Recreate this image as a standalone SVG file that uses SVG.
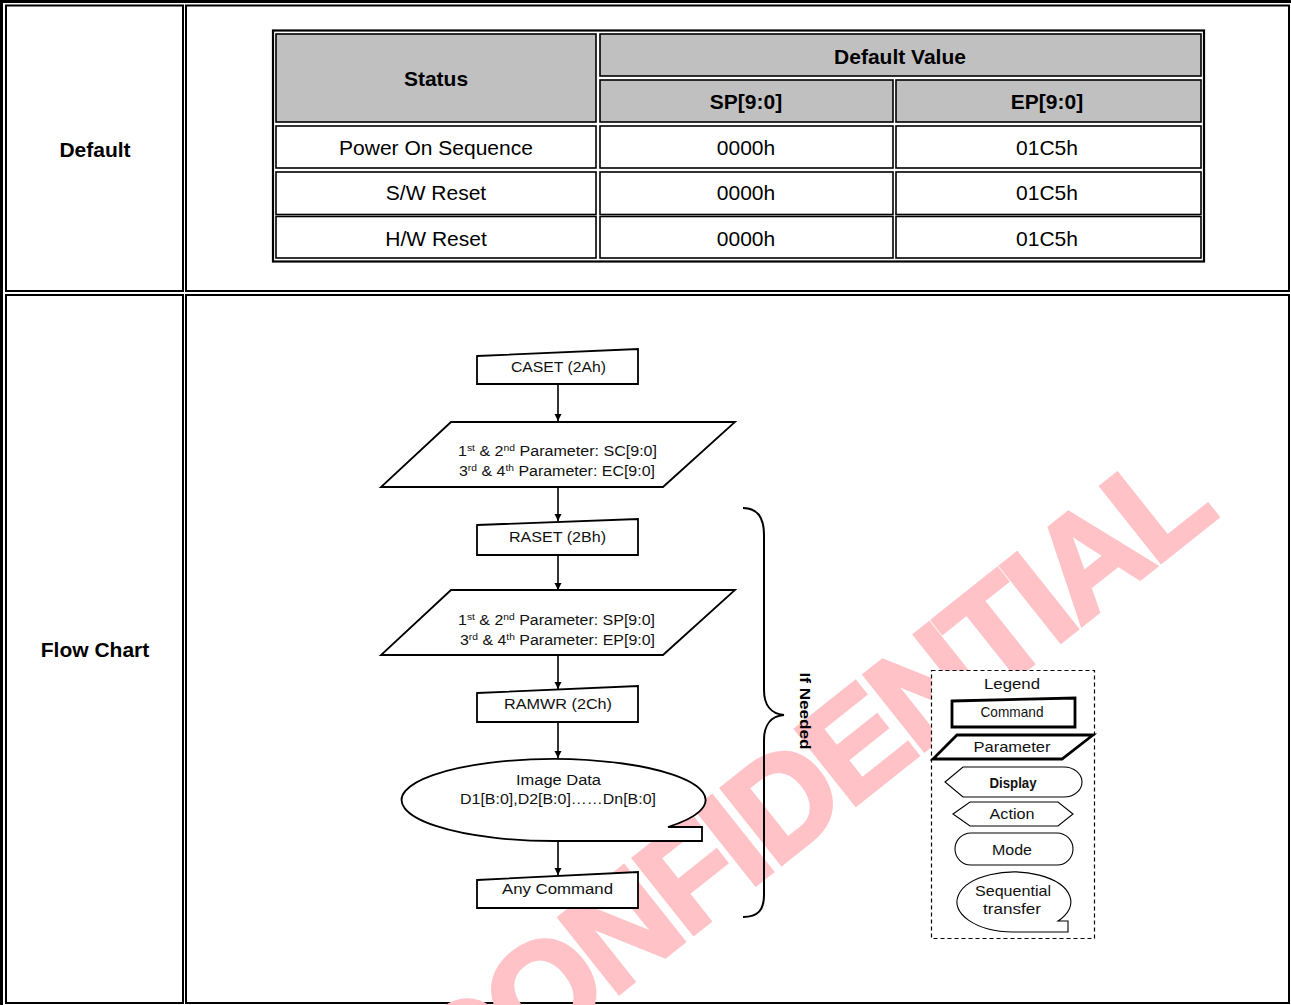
<svg xmlns="http://www.w3.org/2000/svg" width="1291" height="1005" viewBox="0 0 1291 1005">
<style>
.frame{fill:none;stroke:#000;stroke-width:2}
.cell{fill:#fff;stroke:#000;stroke-width:1.6}
.hcell{fill:#c0c0c0;stroke:#000;stroke-width:1.6}
.th{font-family:"Liberation Sans",Arial,sans-serif;font-size:21px;font-weight:bold;text-anchor:middle;fill:#000}
.td{font-family:"Liberation Sans",Arial,sans-serif;font-size:21px;text-anchor:middle;fill:#000}
.shape{fill:#fff;stroke:#000;stroke-width:1.8}
.thin{fill:#fff;stroke:#000;stroke-width:1.1}
.thick{fill:#fff;stroke:#000;stroke-width:2.8}
.ft{font-family:"Liberation Sans",Arial,sans-serif;font-size:14px;fill:#111}
.sup{font-size:9px}
.lg{font-family:"Liberation Sans",Arial,sans-serif;font-size:15px;fill:#111;text-anchor:middle}
.conn{fill:none;stroke:#000;stroke-width:1.6}
.wm{font-family:"Liberation Sans",Arial,sans-serif;font-size:140px;font-weight:bold;fill:#ffc2c6;stroke:#ffc2c6;stroke-width:4;letter-spacing:-6px;text-anchor:middle}
</style>
<defs>
<marker id="arr" markerUnits="userSpaceOnUse" markerWidth="8" markerHeight="8" refX="7" refY="3.5" orient="auto">
<path d="M0,0 L7,3.5 L0,7 Z" fill="#000"/>
</marker>
</defs>
<rect width="1291" height="1005" fill="#fff"/>

<!-- page frame -->
<g id="page-frame">
<path d="M1.5,1005 V1.5 H1291" fill="none" stroke="#000" stroke-width="3"/>
<rect x="6" y="5.5" width="177" height="285.5" class="frame"/>
<rect x="186" y="5.5" width="1103" height="285.5" class="frame"/>
<rect x="6" y="295" width="177" height="708" class="frame"/>
<rect x="186" y="295" width="1103" height="708" class="frame"/>
<text x="95" y="157" class="th">Default</text>
<text x="95" y="657" class="th">Flow Chart</text>
</g>

<!-- watermark -->
<g id="watermark">
<text class="wm" transform="translate(808,784) rotate(-38.5)" y="46">CONFIDENTIAL</text>
</g>

<!-- table -->
<g id="default-table">
<rect x="273" y="30.5" width="931" height="231" fill="#fff" stroke="#000" stroke-width="2.2"/>
<rect x="276" y="34" width="320" height="88" class="hcell"/>
<rect x="600" y="34" width="601" height="42" class="hcell"/>
<rect x="600" y="80" width="293" height="42" class="hcell"/>
<rect x="896" y="80" width="305" height="42" class="hcell"/>
<rect x="276" y="126" width="320" height="42" class="cell"/>
<rect x="600" y="126" width="293" height="42" class="cell"/>
<rect x="896" y="126" width="305" height="42" class="cell"/>
<rect x="276" y="172" width="320" height="42.5" class="cell"/>
<rect x="600" y="172" width="293" height="42.5" class="cell"/>
<rect x="896" y="172" width="305" height="42.5" class="cell"/>
<rect x="276" y="216.5" width="320" height="41.5" class="cell"/>
<rect x="600" y="216.5" width="293" height="41.5" class="cell"/>
<rect x="896" y="216.5" width="305" height="41.5" class="cell"/>
<text x="436" y="86" class="th">Status</text>
<text x="900" y="64" class="th">Default Value</text>
<text x="746" y="109" class="th">SP[9:0]</text>
<text x="1047" y="109" class="th">EP[9:0]</text>
<text x="436" y="155" class="td">Power On Sequence</text>
<text x="746" y="155" class="td">0000h</text>
<text x="1047" y="155" class="td">01C5h</text>
<text x="436" y="200" class="td">S/W Reset</text>
<text x="746" y="200" class="td">0000h</text>
<text x="1047" y="200" class="td">01C5h</text>
<text x="436" y="246" class="td">H/W Reset</text>
<text x="746" y="246" class="td">0000h</text>
<text x="1047" y="246" class="td">01C5h</text>
</g>

<!-- flowchart connectors -->
<g id="connectors">
<line x1="558" y1="385" x2="558" y2="421" class="conn" marker-end="url(#arr)"/>
<line x1="558" y1="487" x2="558" y2="521" class="conn" marker-end="url(#arr)"/>
<line x1="558" y1="555" x2="558" y2="590" class="conn" marker-end="url(#arr)"/>
<line x1="558" y1="654" x2="558" y2="689" class="conn" marker-end="url(#arr)"/>
<line x1="558" y1="722" x2="558" y2="758" class="conn" marker-end="url(#arr)"/>
<line x1="558" y1="841" x2="558" y2="875" class="conn" marker-end="url(#arr)"/>
</g>

<g id="caset">
<path d="M477,356 L638,349 L638,384 L477,384 Z" class="shape"/>
<text x="511" y="372" class="ft" textLength="95" lengthAdjust="spacingAndGlyphs">CASET (2Ah)</text>
</g>
<g id="caset-param">
<path d="M451,422 L735,422 L663,487 L381,487 Z" class="shape"/>
<text x="458" y="456" class="ft" textLength="199" lengthAdjust="spacingAndGlyphs">1<tspan class="sup" dy="-5">st</tspan><tspan dy="5"> &amp; 2</tspan><tspan class="sup" dy="-5">nd</tspan><tspan dy="5"> Parameter: SC[9:0]</tspan></text>
<text x="459" y="476" class="ft" textLength="196" lengthAdjust="spacingAndGlyphs">3<tspan class="sup" dy="-5">rd</tspan><tspan dy="5"> &amp; 4</tspan><tspan class="sup" dy="-5">th</tspan><tspan dy="5"> Parameter: EC[9:0]</tspan></text>
</g>
<g id="raset">
<path d="M477,525 L638,519 L638,555 L477,555 Z" class="shape"/>
<text x="509" y="542" class="ft" textLength="97" lengthAdjust="spacingAndGlyphs">RASET (2Bh)</text>
</g>
<g id="raset-param">
<path d="M451,590 L735,590 L663,655 L381,655 Z" class="shape"/>
<text x="458" y="625" class="ft" textLength="197" lengthAdjust="spacingAndGlyphs">1<tspan class="sup" dy="-5">st</tspan><tspan dy="5"> &amp; 2</tspan><tspan class="sup" dy="-5">nd</tspan><tspan dy="5"> Parameter: SP[9:0]</tspan></text>
<text x="460" y="645" class="ft" textLength="195" lengthAdjust="spacingAndGlyphs">3<tspan class="sup" dy="-5">rd</tspan><tspan dy="5"> &amp; 4</tspan><tspan class="sup" dy="-5">th</tspan><tspan dy="5"> Parameter: EP[9:0]</tspan></text>
</g>
<g id="ramwr">
<path d="M477,693 L638,686 L638,722 L477,722 Z" class="shape"/>
<text x="504" y="709" class="ft" textLength="108" lengthAdjust="spacingAndGlyphs">RAMWR  (2Ch)</text>
</g>
<g id="image-data">
<path d="M702,841 L557,841 A152 41 0 1 1 668,827 L702,827 Z" class="shape"/>
<text x="516" y="785" class="ft" textLength="85" lengthAdjust="spacingAndGlyphs">Image Data</text>
<text x="460" y="804" class="ft" textLength="196" lengthAdjust="spacingAndGlyphs">D1[B:0],D2[B:0]……Dn[B:0]</text>
</g>
<g id="any-command">
<path d="M477,880 L638,872 L638,908 L477,908 Z" class="shape"/>
<text x="502" y="894" class="ft" textLength="111" lengthAdjust="spacingAndGlyphs">Any Command</text>
</g>

<g id="if-needed">
<path d="M743,508 C758,508 764,518 764,535 L764,690 C764,705 771,714 784,715 C771,716 764,725 764,740 L764,895 C764,910 758,917 743,917" fill="none" stroke="#000" stroke-width="2"/>
<text transform="translate(805,711) rotate(90)" y="5" font-family="Liberation Sans, Arial, sans-serif" font-size="15" font-weight="bold" text-anchor="middle" textLength="77" lengthAdjust="spacingAndGlyphs">If Needed</text>
</g>

<g id="legend">
<rect x="931.5" y="670.5" width="163" height="268" fill="#fff" stroke="#000" stroke-width="1.2" stroke-dasharray="4,3"/>
<text x="1012" y="689" class="lg" textLength="56" lengthAdjust="spacingAndGlyphs">Legend</text>
<path d="M952,701 L1075,698 L1075,727 L952,727 Z" class="thick"/>
<text x="1012" y="717" class="lg" font-size="13" textLength="63" lengthAdjust="spacingAndGlyphs">Command</text>
<path d="M957,735 L1093,735 L1062,759 L933,759 Z" class="thick"/>
<text x="1012" y="752" class="lg" textLength="77" lengthAdjust="spacingAndGlyphs">Parameter</text>
<path d="M945,782 L963,767 L1064,767 A18 15 0 0 1 1064,797 L963,797 Z" class="thin"/>
<text x="1013" y="788" class="lg" font-size="12" font-weight="bold" textLength="47" lengthAdjust="spacingAndGlyphs">Display</text>
<path d="M953,814 L970,802 L1058,802 L1073,814 L1058,826 L970,826 Z" class="thin"/>
<text x="1012" y="819" class="lg" textLength="45" lengthAdjust="spacingAndGlyphs">Action</text>
<rect x="955" y="833" width="118" height="32" rx="16" ry="16" class="thin"/>
<text x="1012" y="855" class="lg" textLength="40" lengthAdjust="spacingAndGlyphs">Mode</text>
<path d="M1068,932 L1013,932 A57 30 0 1 1 1058,921 L1068,921 Z" class="thin"/>
<text x="1013" y="896" class="lg" textLength="76" lengthAdjust="spacingAndGlyphs">Sequential</text>
<text x="1012" y="914" class="lg" textLength="58" lengthAdjust="spacingAndGlyphs">transfer</text>
</g>
</svg>
